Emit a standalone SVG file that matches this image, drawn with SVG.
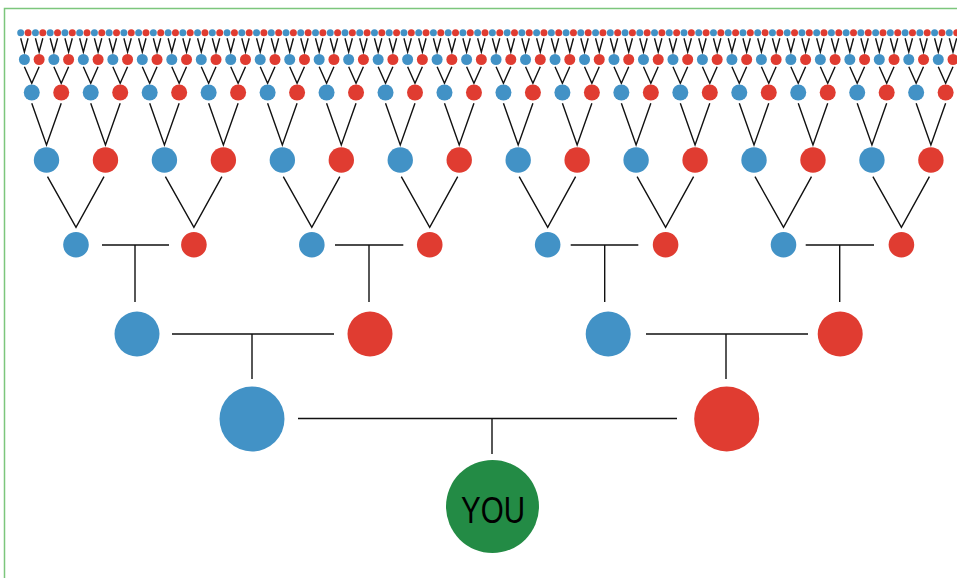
<svg xmlns="http://www.w3.org/2000/svg" xmlns:xlink="http://www.w3.org/1999/xlink" width="957" height="578" viewBox="0 0 957 578">
<style>
.b{fill:#4292c6}
.r{fill:#e03c31}
.you{fill:#238b45}
.lbl{font-family:"Liberation Sans",Arial,sans-serif;font-size:36px;fill:#000}
</style>
<defs>
<path id="blk" d="M0,38.3L3.69,52L7.37,38.3M14.74,38.3L18.43,52L22.11,38.3M29.48,38.3L33.17,52L36.85,38.3M44.22,38.3L47.91,52L51.59,38.3M3.69,66.7L11.06,83.3L18.43,66.7M33.17,66.7L40.54,83.3L47.91,66.7M11.06,103.3L25.8,145L40.54,103.3"/>
</defs>
<rect x="4.5" y="8.5" width="970" height="600" fill="none" stroke="#7cc67c" stroke-width="1.5"/>
<g id="connectors" fill="none" stroke="#111" stroke-width="1.4">
<use href="#blk" x="20.7"/>
<use href="#blk" x="79.66"/>
<use href="#blk" x="138.62"/>
<use href="#blk" x="197.58"/>
<use href="#blk" x="256.54"/>
<use href="#blk" x="315.5"/>
<use href="#blk" x="374.46"/>
<use href="#blk" x="433.42"/>
<use href="#blk" x="492.38"/>
<use href="#blk" x="551.34"/>
<use href="#blk" x="610.3"/>
<use href="#blk" x="669.26"/>
<use href="#blk" x="728.22"/>
<use href="#blk" x="787.18"/>
<use href="#blk" x="846.14"/>
<use href="#blk" x="905.1"/>
<path d="M47.5,176.7L76,227.3L104,176.7M165.4,176.7L193.9,227.3L221.9,176.7M283.3,176.7L311.8,227.3L339.8,176.7M401.3,176.7L429.7,227.3L457.7,176.7M519.2,176.7L547.7,227.3L575.6,176.7M637.1,176.7L665.6,227.3L693.6,176.7M755,176.7L783.5,227.3L811.5,176.7M872.9,176.7L901.4,227.3L929.4,176.7"/>
<path d="M102,245H169M135,245V302M335,245H403.3M369,245V302M570.7,245H638.3M604.7,245V302M805.7,245H874M839.7,245V302"/>
<path d="M172,334H334M252,334V379M646,334H808M726,334V379"/>
<path d="M298,418.5H677M492,418.5V454"/>
</g>
<g id="nodes">
<g transform="translate(20.7,0)">
<g id="n7-0"><circle class="b" cx="0" cy="32.7" r="3.5"/></g>
<g id="n7-1"><circle class="r" cx="7.37" cy="32.7" r="3.5"/></g>
<g id="n7-2"><circle class="b" cx="14.74" cy="32.7" r="3.5"/></g>
<g id="n7-3"><circle class="r" cx="22.11" cy="32.7" r="3.5"/></g>
<g id="n7-4"><circle class="b" cx="29.48" cy="32.7" r="3.5"/></g>
<g id="n7-5"><circle class="r" cx="36.85" cy="32.7" r="3.5"/></g>
<g id="n7-6"><circle class="b" cx="44.22" cy="32.7" r="3.5"/></g>
<g id="n7-7"><circle class="r" cx="51.59" cy="32.7" r="3.5"/></g>
<g id="n6-0"><circle class="b" cx="3.69" cy="59.5" r="5.5"/></g>
<g id="n6-1"><circle class="r" cx="18.43" cy="59.5" r="5.5"/></g>
<g id="n6-2"><circle class="b" cx="33.17" cy="59.5" r="5.5"/></g>
<g id="n6-3"><circle class="r" cx="47.91" cy="59.5" r="5.5"/></g>
<g id="n5-0"><circle class="b" cx="11.06" cy="92.5" r="8"/></g>
<g id="n5-1"><circle class="r" cx="40.54" cy="92.5" r="8"/></g>
<g id="n4-0"><circle class="b" cx="25.8" cy="160" r="12.7"/></g>
</g>
<g transform="translate(79.66,0)">
<g id="n7-8"><circle class="b" cx="0" cy="32.7" r="3.5"/></g>
<g id="n7-9"><circle class="r" cx="7.37" cy="32.7" r="3.5"/></g>
<g id="n7-10"><circle class="b" cx="14.74" cy="32.7" r="3.5"/></g>
<g id="n7-11"><circle class="r" cx="22.11" cy="32.7" r="3.5"/></g>
<g id="n7-12"><circle class="b" cx="29.48" cy="32.7" r="3.5"/></g>
<g id="n7-13"><circle class="r" cx="36.85" cy="32.7" r="3.5"/></g>
<g id="n7-14"><circle class="b" cx="44.22" cy="32.7" r="3.5"/></g>
<g id="n7-15"><circle class="r" cx="51.59" cy="32.7" r="3.5"/></g>
<g id="n6-4"><circle class="b" cx="3.69" cy="59.5" r="5.5"/></g>
<g id="n6-5"><circle class="r" cx="18.43" cy="59.5" r="5.5"/></g>
<g id="n6-6"><circle class="b" cx="33.17" cy="59.5" r="5.5"/></g>
<g id="n6-7"><circle class="r" cx="47.91" cy="59.5" r="5.5"/></g>
<g id="n5-2"><circle class="b" cx="11.06" cy="92.5" r="8"/></g>
<g id="n5-3"><circle class="r" cx="40.54" cy="92.5" r="8"/></g>
<g id="n4-1"><circle class="r" cx="25.8" cy="160" r="12.7"/></g>
</g>
<g transform="translate(138.62,0)">
<g id="n7-16"><circle class="b" cx="0" cy="32.7" r="3.5"/></g>
<g id="n7-17"><circle class="r" cx="7.37" cy="32.7" r="3.5"/></g>
<g id="n7-18"><circle class="b" cx="14.74" cy="32.7" r="3.5"/></g>
<g id="n7-19"><circle class="r" cx="22.11" cy="32.7" r="3.5"/></g>
<g id="n7-20"><circle class="b" cx="29.48" cy="32.7" r="3.5"/></g>
<g id="n7-21"><circle class="r" cx="36.85" cy="32.7" r="3.5"/></g>
<g id="n7-22"><circle class="b" cx="44.22" cy="32.7" r="3.5"/></g>
<g id="n7-23"><circle class="r" cx="51.59" cy="32.7" r="3.5"/></g>
<g id="n6-8"><circle class="b" cx="3.69" cy="59.5" r="5.5"/></g>
<g id="n6-9"><circle class="r" cx="18.43" cy="59.5" r="5.5"/></g>
<g id="n6-10"><circle class="b" cx="33.17" cy="59.5" r="5.5"/></g>
<g id="n6-11"><circle class="r" cx="47.91" cy="59.5" r="5.5"/></g>
<g id="n5-4"><circle class="b" cx="11.06" cy="92.5" r="8"/></g>
<g id="n5-5"><circle class="r" cx="40.54" cy="92.5" r="8"/></g>
<g id="n4-2"><circle class="b" cx="25.8" cy="160" r="12.7"/></g>
</g>
<g transform="translate(197.58,0)">
<g id="n7-24"><circle class="b" cx="0" cy="32.7" r="3.5"/></g>
<g id="n7-25"><circle class="r" cx="7.37" cy="32.7" r="3.5"/></g>
<g id="n7-26"><circle class="b" cx="14.74" cy="32.7" r="3.5"/></g>
<g id="n7-27"><circle class="r" cx="22.11" cy="32.7" r="3.5"/></g>
<g id="n7-28"><circle class="b" cx="29.48" cy="32.7" r="3.5"/></g>
<g id="n7-29"><circle class="r" cx="36.85" cy="32.7" r="3.5"/></g>
<g id="n7-30"><circle class="b" cx="44.22" cy="32.7" r="3.5"/></g>
<g id="n7-31"><circle class="r" cx="51.59" cy="32.7" r="3.5"/></g>
<g id="n6-12"><circle class="b" cx="3.69" cy="59.5" r="5.5"/></g>
<g id="n6-13"><circle class="r" cx="18.43" cy="59.5" r="5.5"/></g>
<g id="n6-14"><circle class="b" cx="33.17" cy="59.5" r="5.5"/></g>
<g id="n6-15"><circle class="r" cx="47.91" cy="59.5" r="5.5"/></g>
<g id="n5-6"><circle class="b" cx="11.06" cy="92.5" r="8"/></g>
<g id="n5-7"><circle class="r" cx="40.54" cy="92.5" r="8"/></g>
<g id="n4-3"><circle class="r" cx="25.8" cy="160" r="12.7"/></g>
</g>
<g transform="translate(256.54,0)">
<g id="n7-32"><circle class="b" cx="0" cy="32.7" r="3.5"/></g>
<g id="n7-33"><circle class="r" cx="7.37" cy="32.7" r="3.5"/></g>
<g id="n7-34"><circle class="b" cx="14.74" cy="32.7" r="3.5"/></g>
<g id="n7-35"><circle class="r" cx="22.11" cy="32.7" r="3.5"/></g>
<g id="n7-36"><circle class="b" cx="29.48" cy="32.7" r="3.5"/></g>
<g id="n7-37"><circle class="r" cx="36.85" cy="32.7" r="3.5"/></g>
<g id="n7-38"><circle class="b" cx="44.22" cy="32.7" r="3.5"/></g>
<g id="n7-39"><circle class="r" cx="51.59" cy="32.7" r="3.5"/></g>
<g id="n6-16"><circle class="b" cx="3.69" cy="59.5" r="5.5"/></g>
<g id="n6-17"><circle class="r" cx="18.43" cy="59.5" r="5.5"/></g>
<g id="n6-18"><circle class="b" cx="33.17" cy="59.5" r="5.5"/></g>
<g id="n6-19"><circle class="r" cx="47.91" cy="59.5" r="5.5"/></g>
<g id="n5-8"><circle class="b" cx="11.06" cy="92.5" r="8"/></g>
<g id="n5-9"><circle class="r" cx="40.54" cy="92.5" r="8"/></g>
<g id="n4-4"><circle class="b" cx="25.8" cy="160" r="12.7"/></g>
</g>
<g transform="translate(315.5,0)">
<g id="n7-40"><circle class="b" cx="0" cy="32.7" r="3.5"/></g>
<g id="n7-41"><circle class="r" cx="7.37" cy="32.7" r="3.5"/></g>
<g id="n7-42"><circle class="b" cx="14.74" cy="32.7" r="3.5"/></g>
<g id="n7-43"><circle class="r" cx="22.11" cy="32.7" r="3.5"/></g>
<g id="n7-44"><circle class="b" cx="29.48" cy="32.7" r="3.5"/></g>
<g id="n7-45"><circle class="r" cx="36.85" cy="32.7" r="3.5"/></g>
<g id="n7-46"><circle class="b" cx="44.22" cy="32.7" r="3.5"/></g>
<g id="n7-47"><circle class="r" cx="51.59" cy="32.7" r="3.5"/></g>
<g id="n6-20"><circle class="b" cx="3.69" cy="59.5" r="5.5"/></g>
<g id="n6-21"><circle class="r" cx="18.43" cy="59.5" r="5.5"/></g>
<g id="n6-22"><circle class="b" cx="33.17" cy="59.5" r="5.5"/></g>
<g id="n6-23"><circle class="r" cx="47.91" cy="59.5" r="5.5"/></g>
<g id="n5-10"><circle class="b" cx="11.06" cy="92.5" r="8"/></g>
<g id="n5-11"><circle class="r" cx="40.54" cy="92.5" r="8"/></g>
<g id="n4-5"><circle class="r" cx="25.8" cy="160" r="12.7"/></g>
</g>
<g transform="translate(374.46,0)">
<g id="n7-48"><circle class="b" cx="0" cy="32.7" r="3.5"/></g>
<g id="n7-49"><circle class="r" cx="7.37" cy="32.7" r="3.5"/></g>
<g id="n7-50"><circle class="b" cx="14.74" cy="32.7" r="3.5"/></g>
<g id="n7-51"><circle class="r" cx="22.11" cy="32.7" r="3.5"/></g>
<g id="n7-52"><circle class="b" cx="29.48" cy="32.7" r="3.5"/></g>
<g id="n7-53"><circle class="r" cx="36.85" cy="32.7" r="3.5"/></g>
<g id="n7-54"><circle class="b" cx="44.22" cy="32.7" r="3.5"/></g>
<g id="n7-55"><circle class="r" cx="51.59" cy="32.7" r="3.5"/></g>
<g id="n6-24"><circle class="b" cx="3.69" cy="59.5" r="5.5"/></g>
<g id="n6-25"><circle class="r" cx="18.43" cy="59.5" r="5.5"/></g>
<g id="n6-26"><circle class="b" cx="33.17" cy="59.5" r="5.5"/></g>
<g id="n6-27"><circle class="r" cx="47.91" cy="59.5" r="5.5"/></g>
<g id="n5-12"><circle class="b" cx="11.06" cy="92.5" r="8"/></g>
<g id="n5-13"><circle class="r" cx="40.54" cy="92.5" r="8"/></g>
<g id="n4-6"><circle class="b" cx="25.8" cy="160" r="12.7"/></g>
</g>
<g transform="translate(433.42,0)">
<g id="n7-56"><circle class="b" cx="0" cy="32.7" r="3.5"/></g>
<g id="n7-57"><circle class="r" cx="7.37" cy="32.7" r="3.5"/></g>
<g id="n7-58"><circle class="b" cx="14.74" cy="32.7" r="3.5"/></g>
<g id="n7-59"><circle class="r" cx="22.11" cy="32.7" r="3.5"/></g>
<g id="n7-60"><circle class="b" cx="29.48" cy="32.7" r="3.5"/></g>
<g id="n7-61"><circle class="r" cx="36.85" cy="32.7" r="3.5"/></g>
<g id="n7-62"><circle class="b" cx="44.22" cy="32.7" r="3.5"/></g>
<g id="n7-63"><circle class="r" cx="51.59" cy="32.7" r="3.5"/></g>
<g id="n6-28"><circle class="b" cx="3.69" cy="59.5" r="5.5"/></g>
<g id="n6-29"><circle class="r" cx="18.43" cy="59.5" r="5.5"/></g>
<g id="n6-30"><circle class="b" cx="33.17" cy="59.5" r="5.5"/></g>
<g id="n6-31"><circle class="r" cx="47.91" cy="59.5" r="5.5"/></g>
<g id="n5-14"><circle class="b" cx="11.06" cy="92.5" r="8"/></g>
<g id="n5-15"><circle class="r" cx="40.54" cy="92.5" r="8"/></g>
<g id="n4-7"><circle class="r" cx="25.8" cy="160" r="12.7"/></g>
</g>
<g transform="translate(492.38,0)">
<g id="n7-64"><circle class="b" cx="0" cy="32.7" r="3.5"/></g>
<g id="n7-65"><circle class="r" cx="7.37" cy="32.7" r="3.5"/></g>
<g id="n7-66"><circle class="b" cx="14.74" cy="32.7" r="3.5"/></g>
<g id="n7-67"><circle class="r" cx="22.11" cy="32.7" r="3.5"/></g>
<g id="n7-68"><circle class="b" cx="29.48" cy="32.7" r="3.5"/></g>
<g id="n7-69"><circle class="r" cx="36.85" cy="32.7" r="3.5"/></g>
<g id="n7-70"><circle class="b" cx="44.22" cy="32.7" r="3.5"/></g>
<g id="n7-71"><circle class="r" cx="51.59" cy="32.7" r="3.5"/></g>
<g id="n6-32"><circle class="b" cx="3.69" cy="59.5" r="5.5"/></g>
<g id="n6-33"><circle class="r" cx="18.43" cy="59.5" r="5.5"/></g>
<g id="n6-34"><circle class="b" cx="33.17" cy="59.5" r="5.5"/></g>
<g id="n6-35"><circle class="r" cx="47.91" cy="59.5" r="5.5"/></g>
<g id="n5-16"><circle class="b" cx="11.06" cy="92.5" r="8"/></g>
<g id="n5-17"><circle class="r" cx="40.54" cy="92.5" r="8"/></g>
<g id="n4-8"><circle class="b" cx="25.8" cy="160" r="12.7"/></g>
</g>
<g transform="translate(551.34,0)">
<g id="n7-72"><circle class="b" cx="0" cy="32.7" r="3.5"/></g>
<g id="n7-73"><circle class="r" cx="7.37" cy="32.7" r="3.5"/></g>
<g id="n7-74"><circle class="b" cx="14.74" cy="32.7" r="3.5"/></g>
<g id="n7-75"><circle class="r" cx="22.11" cy="32.7" r="3.5"/></g>
<g id="n7-76"><circle class="b" cx="29.48" cy="32.7" r="3.5"/></g>
<g id="n7-77"><circle class="r" cx="36.85" cy="32.7" r="3.5"/></g>
<g id="n7-78"><circle class="b" cx="44.22" cy="32.7" r="3.5"/></g>
<g id="n7-79"><circle class="r" cx="51.59" cy="32.7" r="3.5"/></g>
<g id="n6-36"><circle class="b" cx="3.69" cy="59.5" r="5.5"/></g>
<g id="n6-37"><circle class="r" cx="18.43" cy="59.5" r="5.5"/></g>
<g id="n6-38"><circle class="b" cx="33.17" cy="59.5" r="5.5"/></g>
<g id="n6-39"><circle class="r" cx="47.91" cy="59.5" r="5.5"/></g>
<g id="n5-18"><circle class="b" cx="11.06" cy="92.5" r="8"/></g>
<g id="n5-19"><circle class="r" cx="40.54" cy="92.5" r="8"/></g>
<g id="n4-9"><circle class="r" cx="25.8" cy="160" r="12.7"/></g>
</g>
<g transform="translate(610.3,0)">
<g id="n7-80"><circle class="b" cx="0" cy="32.7" r="3.5"/></g>
<g id="n7-81"><circle class="r" cx="7.37" cy="32.7" r="3.5"/></g>
<g id="n7-82"><circle class="b" cx="14.74" cy="32.7" r="3.5"/></g>
<g id="n7-83"><circle class="r" cx="22.11" cy="32.7" r="3.5"/></g>
<g id="n7-84"><circle class="b" cx="29.48" cy="32.7" r="3.5"/></g>
<g id="n7-85"><circle class="r" cx="36.85" cy="32.7" r="3.5"/></g>
<g id="n7-86"><circle class="b" cx="44.22" cy="32.7" r="3.5"/></g>
<g id="n7-87"><circle class="r" cx="51.59" cy="32.7" r="3.5"/></g>
<g id="n6-40"><circle class="b" cx="3.69" cy="59.5" r="5.5"/></g>
<g id="n6-41"><circle class="r" cx="18.43" cy="59.5" r="5.5"/></g>
<g id="n6-42"><circle class="b" cx="33.17" cy="59.5" r="5.5"/></g>
<g id="n6-43"><circle class="r" cx="47.91" cy="59.5" r="5.5"/></g>
<g id="n5-20"><circle class="b" cx="11.06" cy="92.5" r="8"/></g>
<g id="n5-21"><circle class="r" cx="40.54" cy="92.5" r="8"/></g>
<g id="n4-10"><circle class="b" cx="25.8" cy="160" r="12.7"/></g>
</g>
<g transform="translate(669.26,0)">
<g id="n7-88"><circle class="b" cx="0" cy="32.7" r="3.5"/></g>
<g id="n7-89"><circle class="r" cx="7.37" cy="32.7" r="3.5"/></g>
<g id="n7-90"><circle class="b" cx="14.74" cy="32.7" r="3.5"/></g>
<g id="n7-91"><circle class="r" cx="22.11" cy="32.7" r="3.5"/></g>
<g id="n7-92"><circle class="b" cx="29.48" cy="32.7" r="3.5"/></g>
<g id="n7-93"><circle class="r" cx="36.85" cy="32.7" r="3.5"/></g>
<g id="n7-94"><circle class="b" cx="44.22" cy="32.7" r="3.5"/></g>
<g id="n7-95"><circle class="r" cx="51.59" cy="32.7" r="3.5"/></g>
<g id="n6-44"><circle class="b" cx="3.69" cy="59.5" r="5.5"/></g>
<g id="n6-45"><circle class="r" cx="18.43" cy="59.5" r="5.5"/></g>
<g id="n6-46"><circle class="b" cx="33.17" cy="59.5" r="5.5"/></g>
<g id="n6-47"><circle class="r" cx="47.91" cy="59.5" r="5.5"/></g>
<g id="n5-22"><circle class="b" cx="11.06" cy="92.5" r="8"/></g>
<g id="n5-23"><circle class="r" cx="40.54" cy="92.5" r="8"/></g>
<g id="n4-11"><circle class="r" cx="25.8" cy="160" r="12.7"/></g>
</g>
<g transform="translate(728.22,0)">
<g id="n7-96"><circle class="b" cx="0" cy="32.7" r="3.5"/></g>
<g id="n7-97"><circle class="r" cx="7.37" cy="32.7" r="3.5"/></g>
<g id="n7-98"><circle class="b" cx="14.74" cy="32.7" r="3.5"/></g>
<g id="n7-99"><circle class="r" cx="22.11" cy="32.7" r="3.5"/></g>
<g id="n7-100"><circle class="b" cx="29.48" cy="32.7" r="3.5"/></g>
<g id="n7-101"><circle class="r" cx="36.85" cy="32.7" r="3.5"/></g>
<g id="n7-102"><circle class="b" cx="44.22" cy="32.7" r="3.5"/></g>
<g id="n7-103"><circle class="r" cx="51.59" cy="32.7" r="3.5"/></g>
<g id="n6-48"><circle class="b" cx="3.69" cy="59.5" r="5.5"/></g>
<g id="n6-49"><circle class="r" cx="18.43" cy="59.5" r="5.5"/></g>
<g id="n6-50"><circle class="b" cx="33.17" cy="59.5" r="5.5"/></g>
<g id="n6-51"><circle class="r" cx="47.91" cy="59.5" r="5.5"/></g>
<g id="n5-24"><circle class="b" cx="11.06" cy="92.5" r="8"/></g>
<g id="n5-25"><circle class="r" cx="40.54" cy="92.5" r="8"/></g>
<g id="n4-12"><circle class="b" cx="25.8" cy="160" r="12.7"/></g>
</g>
<g transform="translate(787.18,0)">
<g id="n7-104"><circle class="b" cx="0" cy="32.7" r="3.5"/></g>
<g id="n7-105"><circle class="r" cx="7.37" cy="32.7" r="3.5"/></g>
<g id="n7-106"><circle class="b" cx="14.74" cy="32.7" r="3.5"/></g>
<g id="n7-107"><circle class="r" cx="22.11" cy="32.7" r="3.5"/></g>
<g id="n7-108"><circle class="b" cx="29.48" cy="32.7" r="3.5"/></g>
<g id="n7-109"><circle class="r" cx="36.85" cy="32.7" r="3.5"/></g>
<g id="n7-110"><circle class="b" cx="44.22" cy="32.7" r="3.5"/></g>
<g id="n7-111"><circle class="r" cx="51.59" cy="32.7" r="3.5"/></g>
<g id="n6-52"><circle class="b" cx="3.69" cy="59.5" r="5.5"/></g>
<g id="n6-53"><circle class="r" cx="18.43" cy="59.5" r="5.5"/></g>
<g id="n6-54"><circle class="b" cx="33.17" cy="59.5" r="5.5"/></g>
<g id="n6-55"><circle class="r" cx="47.91" cy="59.5" r="5.5"/></g>
<g id="n5-26"><circle class="b" cx="11.06" cy="92.5" r="8"/></g>
<g id="n5-27"><circle class="r" cx="40.54" cy="92.5" r="8"/></g>
<g id="n4-13"><circle class="r" cx="25.8" cy="160" r="12.7"/></g>
</g>
<g transform="translate(846.14,0)">
<g id="n7-112"><circle class="b" cx="0" cy="32.7" r="3.5"/></g>
<g id="n7-113"><circle class="r" cx="7.37" cy="32.7" r="3.5"/></g>
<g id="n7-114"><circle class="b" cx="14.74" cy="32.7" r="3.5"/></g>
<g id="n7-115"><circle class="r" cx="22.11" cy="32.7" r="3.5"/></g>
<g id="n7-116"><circle class="b" cx="29.48" cy="32.7" r="3.5"/></g>
<g id="n7-117"><circle class="r" cx="36.85" cy="32.7" r="3.5"/></g>
<g id="n7-118"><circle class="b" cx="44.22" cy="32.7" r="3.5"/></g>
<g id="n7-119"><circle class="r" cx="51.59" cy="32.7" r="3.5"/></g>
<g id="n6-56"><circle class="b" cx="3.69" cy="59.5" r="5.5"/></g>
<g id="n6-57"><circle class="r" cx="18.43" cy="59.5" r="5.5"/></g>
<g id="n6-58"><circle class="b" cx="33.17" cy="59.5" r="5.5"/></g>
<g id="n6-59"><circle class="r" cx="47.91" cy="59.5" r="5.5"/></g>
<g id="n5-28"><circle class="b" cx="11.06" cy="92.5" r="8"/></g>
<g id="n5-29"><circle class="r" cx="40.54" cy="92.5" r="8"/></g>
<g id="n4-14"><circle class="b" cx="25.8" cy="160" r="12.7"/></g>
</g>
<g transform="translate(905.1,0)">
<g id="n7-120"><circle class="b" cx="0" cy="32.7" r="3.5"/></g>
<g id="n7-121"><circle class="r" cx="7.37" cy="32.7" r="3.5"/></g>
<g id="n7-122"><circle class="b" cx="14.74" cy="32.7" r="3.5"/></g>
<g id="n7-123"><circle class="r" cx="22.11" cy="32.7" r="3.5"/></g>
<g id="n7-124"><circle class="b" cx="29.48" cy="32.7" r="3.5"/></g>
<g id="n7-125"><circle class="r" cx="36.85" cy="32.7" r="3.5"/></g>
<g id="n7-126"><circle class="b" cx="44.22" cy="32.7" r="3.5"/></g>
<g id="n7-127"><circle class="r" cx="51.59" cy="32.7" r="3.5"/></g>
<g id="n6-60"><circle class="b" cx="3.69" cy="59.5" r="5.5"/></g>
<g id="n6-61"><circle class="r" cx="18.43" cy="59.5" r="5.5"/></g>
<g id="n6-62"><circle class="b" cx="33.17" cy="59.5" r="5.5"/></g>
<g id="n6-63"><circle class="r" cx="47.91" cy="59.5" r="5.5"/></g>
<g id="n5-30"><circle class="b" cx="11.06" cy="92.5" r="8"/></g>
<g id="n5-31"><circle class="r" cx="40.54" cy="92.5" r="8"/></g>
<g id="n4-15"><circle class="r" cx="25.8" cy="160" r="12.7"/></g>
</g>
<g id="n3-0"><circle class="b" cx="75.98" cy="244.7" r="12.8"/></g>
<g id="n3-1"><circle class="r" cx="193.9" cy="244.7" r="12.8"/></g>
<g id="n3-2"><circle class="b" cx="311.82" cy="244.7" r="12.8"/></g>
<g id="n3-3"><circle class="r" cx="429.74" cy="244.7" r="12.8"/></g>
<g id="n3-4"><circle class="b" cx="547.66" cy="244.7" r="12.8"/></g>
<g id="n3-5"><circle class="r" cx="665.58" cy="244.7" r="12.8"/></g>
<g id="n3-6"><circle class="b" cx="783.5" cy="244.7" r="12.8"/></g>
<g id="n3-7"><circle class="r" cx="901.42" cy="244.7" r="12.8"/></g>
<g id="n2-0"><circle class="b" cx="137" cy="334" r="22.5"/></g>
<g id="n2-1"><circle class="r" cx="370" cy="334" r="22.5"/></g>
<g id="n2-2"><circle class="b" cx="608.2" cy="334" r="22.5"/></g>
<g id="n2-3"><circle class="r" cx="840.2" cy="334" r="22.5"/></g>
<g id="n1-0"><circle class="b" cx="252" cy="419" r="32.5"/></g>
<g id="n1-1"><circle class="r" cx="726.7" cy="419" r="32.5"/></g>
<g id="you"><circle class="you" cx="492.5" cy="506.5" r="46.5"/><text class="lbl" x="493" y="523" text-anchor="middle" textLength="64" lengthAdjust="spacingAndGlyphs">YOU</text></g>
</g>
</svg>
